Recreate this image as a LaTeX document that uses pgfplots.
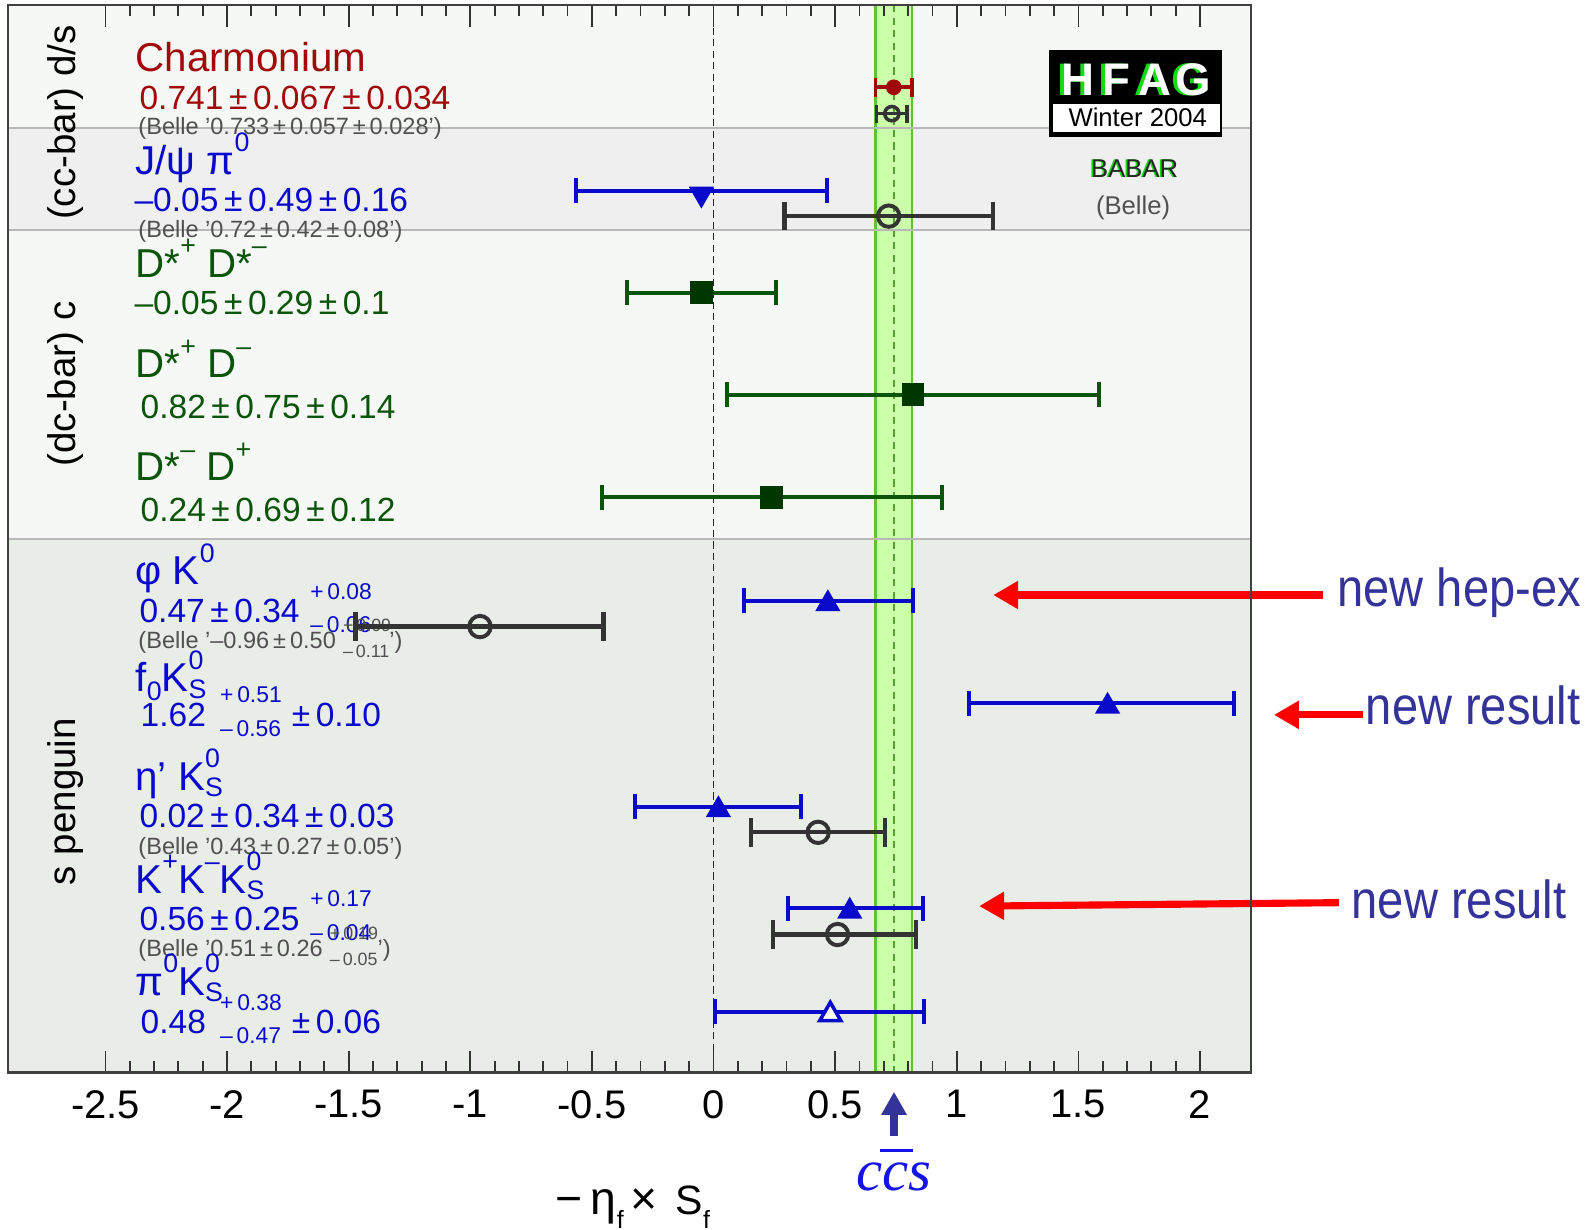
\documentclass[border=0pt]{standalone}
\usepackage{fontspec}
\setmainfont{Liberation Sans}
\newfontfamily\serifit{Liberation Serif}
\newfontfamily\narrowsans{Liberation Sans}[FakeStretch=0.88]
\usepackage{pgfplots}
\pgfplotsset{compat=1.18}
\usetikzlibrary{arrows.meta}
\definecolor{darkred}{RGB}{160,10,10}
\definecolor{myblue}{RGB}{10,10,205}
\definecolor{mygreen}{RGB}{10,85,10}
\definecolor{sqgreen}{RGB}{0,55,0}
\definecolor{bellegray}{RGB}{80,80,80}
\definecolor{bellebar}{RGB}{51,51,51}
\definecolor{annblue}{RGB}{51,51,153}
\definecolor{ccsblue}{RGB}{20,20,230}
\definecolor{bgA}{RGB}{246,248,245}
\definecolor{bgB}{RGB}{239,239,239}
\definecolor{bgC}{RGB}{232,237,232}
\definecolor{bandfill}{RGB}{204,255,170}
\definecolor{bandline}{RGB}{100,190,60}
\definecolor{hfgreen}{RGB}{20,220,20}
\newcommand\sups[1]{\raisebox{6.3pt}{\fontsize{7.5}{7.5}\selectfont #1}}
\newcommand\subs[1]{\raisebox{-1.8pt}{\fontsize{7.5}{7.5}\selectfont #1}}
\newcommand\supsub[2]{\rlap{\sups{#1}}\subs{#2}}
\newcommand\ud[2]{\mbox{\fontsize{6.4}{6.4}\selectfont\rlap{\raisebox{6.5pt}{#1}}\raisebox{-2.9pt}{#2}}}
\newcommand\udb[2]{\mbox{\fontsize{5}{5}\selectfont\rlap{\raisebox{4.8pt}{#1}}\raisebox{-2.5pt}{#2}}}
\pgfplotsset{ebar/.style 2 args={error bars/x dir=both, error bars/x explicit,
  error bars/error mark=|,
  error bars/error bar style={line width=#1},
  error bars/error mark options={mark size=#2, line width=#1}}}
\tikzset{
  namelbl/.style={anchor=base west, inner sep=0pt, font=\fontsize{11.3}{11.3}\selectfont},
  val/.style={anchor=base west, inner sep=0pt, font=\fontsize{9.4}{9.4}\selectfont},
  belle/.style={anchor=base west, inner sep=0pt, font=\fontsize{6.6}{6.6}\selectfont, text=bellegray},
  grp/.style={rotate=90, inner sep=0pt, font=\fontsize{10.8}{10.8}\selectfont},
}
\begin{document}
\begin{tikzpicture}
\useasboundingbox (0,0) rectangle (15.68cm,12.12cm);
\begin{axis}[
  at={(0.08cm,1.55cm)}, anchor=south west,
  width=12.25cm, height=10.52cm, scale only axis,
  xmin=-2.9, xmax=2.21, ymin=5, ymax=1057, y dir=reverse,
  axis line style={draw=black!75, line width=0.6pt},
  ytick=\empty,
  xtick={-2.5,-2,-1.5,-1,-0.5,0,0.5,1,1.5,2},
  xticklabels={-2.5,-2,-1.5,-1,-0.5,0,0.5,1,1.5,2},
  minor x tick num=4,
  tick align=inside,
  major tick length=0.215cm, minor tick length=0.11cm,
  every tick/.style={black!80, line width=0.5pt},
  xticklabel style={font=\fontsize{11.2}{11.2}\selectfont, yshift=-1.5pt},
  clip=false, axis on top,
]
% backgrounds
\addplot[draw=none, fill=bgA] coordinates {(-2.9,5) (2.21,5) (2.21,126.5) (-2.9,126.5)};
\addplot[draw=none, fill=bgB] coordinates {(-2.9,126.5) (2.21,126.5) (2.21,227) (-2.9,227)};
\addplot[draw=none, fill=bgA] coordinates {(-2.9,227) (2.21,227) (2.21,531) (-2.9,531)};
\addplot[draw=none, fill=bgC] coordinates {(-2.9,531) (2.21,531) (2.21,1057) (-2.9,1057)};
% ccs band
\addplot[fill=bandfill, draw=bandline, line width=0.6pt] coordinates {(0.666,5) (0.666,1057) (0.816,1057) (0.816,5)};
\addplot[color=bandline!85!black, line width=0.5pt, dash pattern=on 2pt off 1.5pt] coordinates {(0.741,5) (0.741,1057)};
% separators
\addplot[color=black!28, line width=0.6pt] coordinates {(-2.9,126.5) (2.21,126.5)};
\addplot[color=black!28, line width=0.6pt] coordinates {(-2.9,227) (2.21,227)};
\addplot[color=black!28, line width=0.6pt] coordinates {(-2.9,531) (2.21,531)};
% zero line
\addplot[color=black!85, line width=0.5pt, dash pattern=on 2pt off 1.2pt] coordinates {(0,5) (0,1057)};
% group labels
\node[grp] at (axis cs:-2.6625,120.7) {(cc-bar) d/s};
\node[grp] at (axis cs:-2.6625,378.5) {(dc-bar) c};
\node[grp] at (axis cs:-2.6625,790) {s penguin};
% text labels
\node[namelbl, text=darkred] at (axis cs:-2.379,70.6) {Charmonium};
\node[val, text=darkred] at (axis cs:-2.3625,108.4) {0.741\,±\,0.067\,±\,0.034};
\node[belle] at (axis cs:-2.367,132.4) {(Belle ’0.733\,±\,0.057\,±\,0.028’)};
\node[namelbl, text=myblue] at (axis cs:-2.379,171.5) {J/ψ π\sups{0}};
\node[val, text=myblue] at (axis cs:-2.383,208.6) {–0.05\,±\,0.49\,±\,0.16};
\node[belle] at (axis cs:-2.367,233.9) {(Belle ’0.72\,±\,0.42\,±\,0.08’)};
\node[namelbl, text=mygreen] at (axis cs:-2.379,273) {D*\sups{+} D*\sups{–}};
\node[val, text=mygreen] at (axis cs:-2.383,310) {–0.05\,±\,0.29\,±\,0.1};
\node[namelbl, text=mygreen] at (axis cs:-2.379,372.2) {D*\sups{+} D\sups{–}};
\node[val, text=mygreen] at (axis cs:-2.358,412.3) {0.82\,±\,0.75\,±\,0.14};
\node[namelbl, text=mygreen] at (axis cs:-2.379,473.7) {D*\sups{–} D\sups{+}};
\node[val, text=mygreen] at (axis cs:-2.358,513.5) {0.24\,±\,0.69\,±\,0.12};
\node[namelbl, text=myblue] at (axis cs:-2.379,576.5) {φ K\sups{0}};
\node[val, text=myblue] at (axis cs:-2.3625,613.3) {0.47\,±\,0.34\hspace{3pt}\ud{+\,0.08}{–\,0.06}};
\node[belle] at (axis cs:-2.367,639) {(Belle ’–0.96\,±\,0.50\hspace{2pt}\udb{+\,0.09}{–\,0.11}’)};
\node[namelbl, text=myblue] at (axis cs:-2.379,681.7) {f\raisebox{-2.5pt}{\fontsize{7.5}{7.5}\selectfont 0}K\supsub{0}{S}};
\node[val, text=myblue] at (axis cs:-2.358,715.5) {1.62\hspace{4pt}\ud{+\,0.51}{–\,0.56}\hspace{3pt}±\,0.10};
\node[namelbl, text=myblue] at (axis cs:-2.379,778.6) {η’ K\supsub{0}{S}};
\node[val, text=myblue] at (axis cs:-2.3625,815.7) {0.02\,±\,0.34\,±\,0.03};
\node[belle] at (axis cs:-2.367,842) {(Belle ’0.43\,±\,0.27\,±\,0.05’)};
\node[namelbl, text=myblue] at (axis cs:-2.379,880.4) {K\sups{+}K\sups{–}K\supsub{0}{S}};
\node[val, text=myblue] at (axis cs:-2.3625,916.6) {0.56\,±\,0.25\hspace{3pt}\ud{+\,0.17}{–\,0.04}};
\node[belle] at (axis cs:-2.367,942.8) {(Belle ’0.51\,±\,0.26\hspace{2pt}\udb{+\,0.19}{–\,0.05}’)};
\node[namelbl, text=myblue] at (axis cs:-2.379,980.6) {π\sups{0}K\supsub{0}{S}};
\node[val, text=myblue] at (axis cs:-2.358,1018.4) {0.48\hspace{4pt}\ud{+\,0.38}{–\,0.47}\hspace{3pt}±\,0.06};
% HFAG logo
\fill[black] (axis cs:1.379,49) rectangle (axis cs:2.092,134.7);
\fill[white] (axis cs:1.396,102.5) rectangle (axis cs:2.083,129.8);
\node[anchor=base, inner sep=0pt, font=\bfseries\fontsize{12.8}{12.8}\selectfont, text=hfgreen, xshift=-1.1pt] at (axis cs:1.7375,94.3) {H\hspace{2.2pt}F\hspace{2.2pt}A\hspace{1.2pt}G};
\node[anchor=base, inner sep=0pt, font=\bfseries\fontsize{12.8}{12.8}\selectfont, text=white] at (axis cs:1.7375,94.3) {H\hspace{2.2pt}F\hspace{2.2pt}A\hspace{1.2pt}G};
\node[anchor=base, inner sep=0pt, font=\fontsize{7.2}{7.2}\selectfont] at (axis cs:1.744,124.8) {Winter 2004};
\node[inner sep=0pt, font=\fontsize{7.2}{7.2}\selectfont, text=hfgreen, xshift=-0.5pt] at (axis cs:1.7317,166) {BABAR};
\node[inner sep=0pt, font=\fontsize{7.2}{7.2}\selectfont, text=black!85] at (axis cs:1.7317,166) {BABAR};
\node[inner sep=0pt, font=\fontsize{7.2}{7.2}\selectfont, text=bellegray] at (axis cs:1.725,205) {(Belle)};
% data: charmonium
\addplot[darkred, only marks, mark=*, mark size=2pt, ebar={1pt}{2.7pt}] coordinates {(0.741,86) +- (0.075,0)};
\addplot[bellebar, only marks, mark=o, mark size=2pt, mark options={line width=1pt}, ebar={1pt}{2.5pt}] coordinates {(0.733,112) +- (0.0635,0)};
% J/psi pi0
\addplot[myblue, only marks, mark=triangle*, mark size=3.7pt, mark options={rotate=180, yshift=0.9pt}, ebar={1.1pt}{3.5pt}] coordinates {(-0.05,188) +- (0.515,0)};
\addplot[bellebar, only marks, mark=o, mark size=3pt, mark options={line width=1.1pt}, ebar={1.2pt}{4pt}] coordinates {(0.72,213) +- (0.428,0)};
% D D
\addplot[mygreen, only marks, mark=square*, mark size=3pt, mark options={fill=sqgreen, draw=sqgreen}, ebar={1.1pt}{3.5pt}] coordinates {(-0.05,288.5) +- (0.307,0)};
\addplot[mygreen, only marks, mark=square*, mark size=3pt, mark options={fill=sqgreen, draw=sqgreen}, ebar={1.1pt}{3.5pt}] coordinates {(0.82,389) +- (0.763,0)};
\addplot[mygreen, only marks, mark=square*, mark size=3pt, mark options={fill=sqgreen, draw=sqgreen}, ebar={1.1pt}{3.5pt}] coordinates {(0.24,490) +- (0.700,0)};
% s penguin
\addplot[myblue, only marks, mark=triangle*, mark size=3.7pt, mark options={yshift=-0.9pt}, ebar={1.1pt}{3.5pt}] coordinates {(0.47,592) += (0.349,0) -= (0.345,0)};
\addplot[bellebar, only marks, mark=o, mark size=3pt, mark options={line width=1.1pt}, ebar={1.2pt}{4pt}] coordinates {(-0.96,617.5) += (0.508,0) -= (0.512,0)};
\addplot[myblue, only marks, mark=triangle*, mark size=3.7pt, mark options={yshift=-0.9pt}, ebar={1.1pt}{3.5pt}] coordinates {(1.62,693) += (0.52,0) -= (0.569,0)};
\addplot[myblue, only marks, mark=triangle*, mark size=3.7pt, mark options={yshift=-0.9pt}, ebar={1.1pt}{3.5pt}] coordinates {(0.02,795) +- (0.341,0)};
\addplot[bellebar, only marks, mark=o, mark size=3pt, mark options={line width=1.1pt}, ebar={1.2pt}{4pt}] coordinates {(0.43,820.3) +- (0.275,0)};
\addplot[myblue, only marks, mark=triangle*, mark size=3.7pt, mark options={yshift=-0.9pt}, ebar={1.1pt}{3.5pt}] coordinates {(0.56,895) += (0.302,0) -= (0.253,0)};
\addplot[bellebar, only marks, mark=o, mark size=3pt, mark options={line width=1.1pt}, ebar={1.2pt}{4pt}] coordinates {(0.51,921) += (0.322,0) -= (0.265,0)};
\addplot[myblue, only marks, mark=triangle*, mark size=3.4pt, mark options={fill=white, line width=1pt, yshift=-0.8pt}, ebar={1.1pt}{3.5pt}] coordinates {(0.48,997) += (0.385,0) -= (0.474,0)};
% annotations
\draw[red, line width=2pt, -{Triangle[length=7pt, width=7.5pt]}] (axis cs:2.504,586.4) -- (axis cs:1.15,586.4);
\draw[red, line width=2pt, -{Triangle[length=7pt, width=7.5pt]}] (axis cs:2.671,704.5) -- (axis cs:2.304,704.5);
\draw[red, line width=2pt, -{Triangle[length=7pt, width=7.5pt]}] (axis cs:2.571,889.6) -- (axis cs:1.092,893);
\node[anchor=base west, inner sep=0pt, text=annblue, font=\narrowsans\fontsize{15}{15}\selectfont] at (axis cs:2.5625,598) {new hep-ex};
\node[anchor=base west, inner sep=0pt, text=annblue, font=\narrowsans\fontsize{15}{15}\selectfont] at (axis cs:2.679,714) {new result};
\node[anchor=base west, inner sep=0pt, text=annblue, font=\narrowsans\fontsize{15}{15}\selectfont] at (axis cs:2.621,905) {new result};
\draw[annblue, line width=2.3pt, -{Triangle[length=6.5pt, width=6.8pt]}] (axis cs:0.742,1120) -- (axis cs:0.742,1076);
\node[anchor=base, inner sep=0pt, text=ccsblue, font=\serifit\itshape\fontsize{16.5}{16.5}\selectfont] at (axis cs:0.742,1173) {c\rlap{\kern-0.6pt\raisebox{10.8pt}{\rule{9pt}{0.9pt}}}cs};
\node[anchor=base, inner sep=0pt] at (axis cs:-0.333,1196.5) {{\fontsize{13}{13}\selectfont −\hspace{2.5pt}η}\raisebox{-4pt}{\fontsize{7}{7}\selectfont f}\hspace{2pt}{\fontsize{13}{13}\selectfont ×}\hspace{5pt}{\fontsize{11.5}{11.5}\selectfont S}\raisebox{-4pt}{\fontsize{7}{7}\selectfont f}};
\end{axis}
\end{tikzpicture}
\end{document}
